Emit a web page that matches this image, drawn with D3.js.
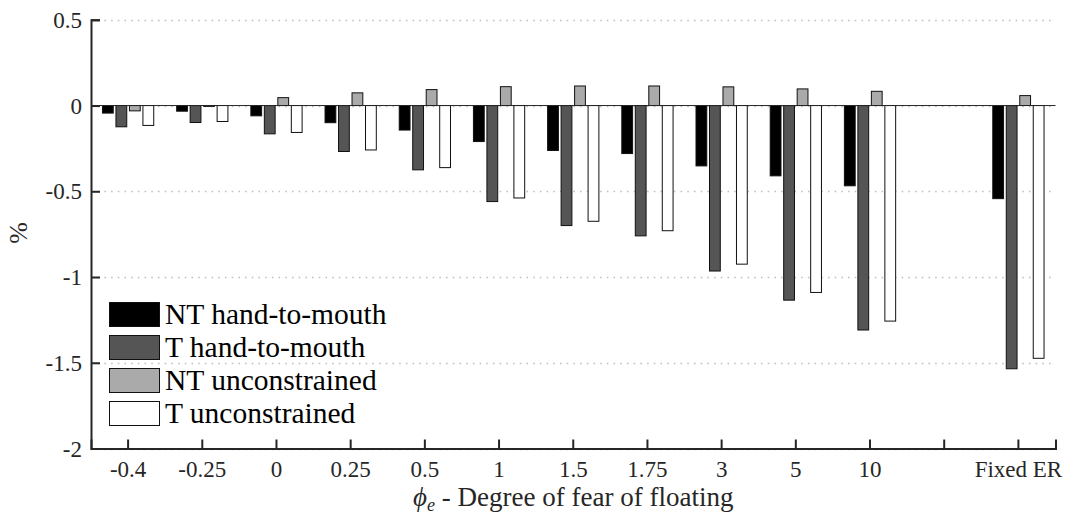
<!DOCTYPE html>
<html>
<head>
<meta charset="utf-8">
<script src="https://cdn.jsdelivr.net/npm/d3@7"></script>
</head>
<body style="margin:0">
<svg id="chart" width="1073" height="521"></svg>
<script>
// Categories on the x axis (the blank one is the spacer slot before Fixed ER)
const categories = ["-0.4", "-0.25", "0", "0.25", "0.5", "1", "1.5", "1.75", "3", "5", "10", "", "Fixed ER"];

// Series values, in percent
const ntHandToMouth = [-0.044, -0.033, -0.060, -0.100, -0.143, -0.210, -0.262, -0.280, -0.352, -0.410, -0.468, 0, -0.543];
const tHandToMouth  = [-0.124, -0.099, -0.165, -0.268, -0.375, -0.560, -0.700, -0.760, -0.965, -1.135, -1.309, 0, -1.535];
const ntUnconstr    = [-0.031, -0.005, 0.046, 0.074, 0.093, 0.110, 0.114, 0.114, 0.109, 0.097, 0.083, 0, 0.058];
const tUnconstr     = [-0.116, -0.093, -0.157, -0.259, -0.362, -0.539, -0.675, -0.730, -0.925, -1.090, -1.257, 0, -1.474];

const seriesNames = ["NT hand-to-mouth", "T hand-to-mouth", "NT unconstrained", "T unconstrained"];
const seriesValues = [ntHandToMouth, tHandToMouth, ntUnconstr, tUnconstr];
const seriesColors = ["#000000", "#555555", "#aaaaaa", "#ffffff"];

const yTicks = [0.5, 0, -0.5, -1, -1.5, -2];

const FONT = '"Liberation Serif"';
const svg = d3.select("#chart").style("font-family", FONT);
const plotLeft = 91, plotRight = 1055.5, plotTop = 19.8, plotBottom = 448.5;
const axisColor = "#262626";

const x = d3.scaleBand().domain(categories).range([plotLeft, plotRight]).paddingInner(0).paddingOuter(0);
const y = d3.scaleLinear().domain([-2, 0.5]).range([plotBottom, plotTop]);

// Grouped bar geometry: group spans ~0.727 of a slot, bars take 0.8 of their sub-slot
const groupFrac = 4 / 5.5;
const step = x.bandwidth() * groupFrac / 4;
const barW = step * 0.8;

// Dotted horizontal grid
svg.append("g")
  .selectAll("line")
  .data(yTicks)
  .join("line")
  .attr("x1", plotLeft)
  .attr("x2", plotRight)
  .attr("y1", d => Math.round(y(d)) + 0.5)
  .attr("y2", d => Math.round(y(d)) + 0.5)
  .attr("stroke", "#bdbdbd")
  .attr("stroke-width", 1.3)
  .attr("stroke-dasharray", "1.5,5.2");

// Bars
const barData = [];
categories.forEach((c, ci) => {
  seriesValues.forEach((vals, si) => {
    barData.push({ cat: c, s: si, v: vals[ci] });
  });
});

svg.append("g")
  .selectAll("rect")
  .data(barData)
  .join("rect")
  .attr("x", d => x(d.cat) + x.bandwidth() / 2 + (d.s - 1.5) * step - barW / 2)
  .attr("width", barW)
  .attr("y", d => Math.min(y(d.v), y(0)))
  .attr("height", d => Math.abs(y(d.v) - y(0)))
  .attr("fill", d => seriesColors[d.s])
  .attr("stroke", "#111")
  .attr("stroke-width", 1);

// Zero baseline
svg.append("line")
  .attr("x1", plotLeft).attr("x2", plotRight)
  .attr("y1", y(0)).attr("y2", y(0))
  .attr("stroke", axisColor)
  .attr("stroke-width", 1);

// Y axis with inward ticks
const yAxis = d3.axisLeft(y).tickValues(yTicks).tickSize(-9).tickPadding(18)
  .tickFormat(d => d3.format("")(d).replace("−", "-"));
const gy = svg.append("g").attr("transform", `translate(${plotLeft},0)`).call(yAxis);
gy.attr("font-family", null).attr("font-size", null).style("font-family", FONT);
gy.select(".domain").attr("stroke", axisColor).attr("stroke-width", 2);
gy.selectAll(".tick line").attr("stroke", axisColor).attr("stroke-width", 2);
gy.selectAll(".tick text")
  .attr("fill", axisColor)
  .style("font-family", FONT)
  .attr("font-size", 23)
  .attr("dy", "0.33em")
  .attr("x", -9);

// X axis with inward ticks
const xAxis = d3.axisBottom(x).tickSize(-9).tickPadding(20);
const gx = svg.append("g").attr("transform", `translate(0,${plotBottom})`).call(xAxis);
gx.attr("font-family", null).attr("font-size", null).style("font-family", FONT);
gx.select(".domain").attr("stroke", axisColor).attr("stroke-width", 2);
gx.selectAll(".tick line").attr("stroke", axisColor).attr("stroke-width", 2);
gx.selectAll(".tick text")
  .attr("fill", axisColor)
  .style("font-family", FONT)
  .attr("font-size", 23)
  .attr("y", 28)
  .attr("dy", 0);

// Axis titles
const xTitle = svg.append("text")
  .attr("x", (plotLeft + plotRight) / 2)
  .attr("y", 506)
  .attr("text-anchor", "middle")
  .attr("fill", axisColor)
  .style("font-family", FONT)
  .attr("font-size", 27);
xTitle.append("tspan").style("font-style", "italic").style("font-family", FONT).text("ϕ");
xTitle.append("tspan").style("font-style", "italic").style("font-family", FONT).attr("font-size", 18).attr("dy", 5).text("e");
xTitle.append("tspan").style("font-family", FONT).attr("dy", -5).text(" - Degree of fear of floating");

svg.append("text")
  .attr("transform", `translate(27,233) rotate(-90)`)
  .attr("text-anchor", "middle")
  .attr("fill", axisColor)
  .style("font-family", FONT)
  .attr("font-size", 26)
  .text("%");

// Legend
const legend = svg.append("g").attr("transform", "translate(109,302)");
const rowH = 33;
seriesNames.forEach((name, i) => {
  const g = legend.append("g").attr("transform", `translate(0,${i * rowH})`);
  g.append("rect")
    .attr("x", 0.5).attr("y", 0.5)
    .attr("width", 50).attr("height", 24)
    .attr("fill", seriesColors[i])
    .attr("stroke", "#111")
    .attr("stroke-width", 1);
  g.append("text")
    .attr("x", 56)
    .attr("y", 21.5)
    .attr("fill", "#000")
    .style("font-family", FONT)
    .attr("font-size", 29.5)
    .text(name);
});
</script>
</body>
</html>
